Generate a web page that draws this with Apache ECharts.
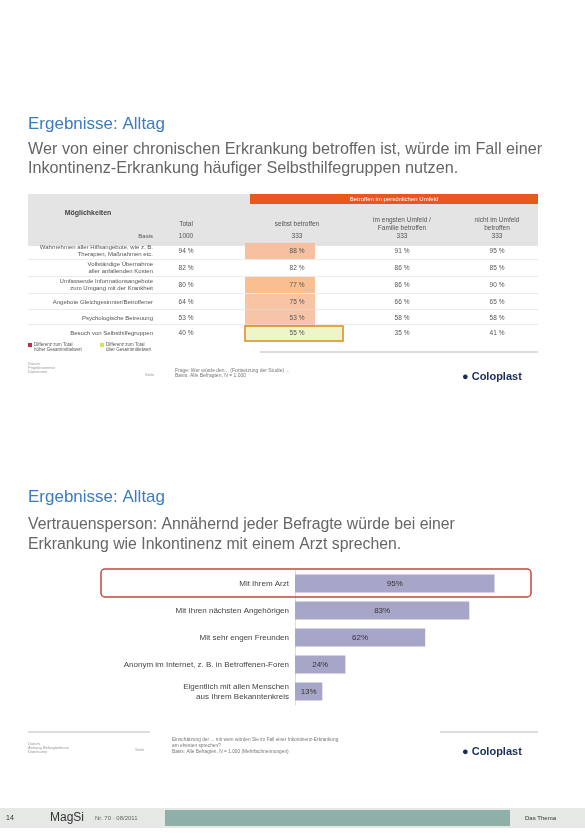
<!DOCTYPE html>
<html><head><meta charset="utf-8">
<script src="https://cdn.jsdelivr.net/npm/echarts@6/dist/echarts.min.js"></script>
<style>html,body{margin:0;padding:0;background:#fff}#c{width:585px;height:835px}</style>
</head><body><div id="c"></div>
<script>
// bottom chart data
const categories = ['Mit Ihrem Arzt','Mit Ihren nächsten Angehörigen','Mit sehr engen Freunden','Anonym im Internet, z. B. in Betroffenen-Foren','Eigentlich mit allen Menschen\naus Ihrem Bekanntenkreis'];
const values = [95, 83, 62, 24, 13];
// top table data
const tableRows = ['Basis','Wahrnehmen aller Hilfsangebote, wie z. B.\nTherapien, Maßnahmen etc.','Vollständige Übernahme\naller anfallenden Kosten','Umfassende Informationsangebote\nzum Umgang mit der Krankheit','Angebote Gleichgesinnter/Betroffener','Psychologische Betreuung','Besuch von Selbsthilfegruppen'];
const tableCols = ['Total','selbst betroffen','im engsten Umfeld /\nFamilie betroffen','nicht im Umfeld\nbetroffen'];
const colTotal = ['1000','94 %','82 %','80 %','64 %','53 %','40 %'];
const colSelf = ['333','88 %','82 %','77 %','75 %','53 %','55 %'];
const colFamily = ['333','91 %','86 %','86 %','66 %','58 %','35 %'];
const colNone = ['333','95 %','85 %','90 %','65 %','58 %','41 %'];

const chart = echarts.init(document.getElementById('c'));
const g = [];
const T = (x,y,text,o={},z=3) => g.push({type:'text',x,y,z,style:Object.assign({text,fill:'#555',fontFamily:'Liberation Sans',fontSize:7},o)});
const R = (x,y,w,h,o={}) => g.push({type:'rect',shape:{x,y,width:w,height:h,r:o.r||0},style:Object.assign({fill:'#eee'},o.style||{}),z:o.z||0});

// top slide
T(28,116,'Ergebnisse: Alltag',{fill:'#3b7cc0',fontSize:17});
T(28,142,'Wer von einer chronischen Erkrankung betroffen ist, würde im Fall einer',{fill:'#666',fontSize:16.2});
T(28,161,'Inkontinenz-Erkrankung häufiger Selbsthilfegruppen nutzen.',{fill:'#666',fontSize:16.2});
R(28,194,510,52,{style:{fill:'#e4e4e4'}});
R(250,194,288,10,{style:{fill:'#e8571c'}});
T(394,199,'Betroffen im persönlichen Umfeld',{fill:'#fff',fontSize:6,align:'center',verticalAlign:'middle'});
T(88,210,'Möglichkeiten',{fontSize:7,fontWeight:'bold',fill:'#444',align:'center'});
const cx=[186,297,402,497];
tableCols.forEach((c,i)=>T(cx[i],224,c,{align:'center',verticalAlign:'middle',fontSize:6.5,lineHeight:8}));
const rowY=[236,251,268,285,302,318,333];
const cols=[colTotal,colSelf,colFamily,colNone];
const hl={1:'#f6bfa0',3:'#f9bf90',4:'#f9c4a4',5:'#f8c4a8'};
Object.keys(hl).forEach(k=>R(245,rowY[k]-8,70,16,{style:{fill:hl[k]}}));
R(245,rowY[6]-7,98,15,{style:{fill:'#eef5c8',stroke:'#d98b1a',lineWidth:1.5},z:1});
tableRows.forEach((r,i)=>{
  if(i>0) g.push({type:'line',z:1,shape:{x1:28,y1:rowY[i]-8.5,x2:538,y2:rowY[i]-8.5},style:{stroke:'#ddd',lineWidth:0.6}});
  T(153,rowY[i],r,{align:'right',verticalAlign:'middle',fontSize:6,lineHeight:7.5});
  cols.forEach((c,j)=>T(cx[j],rowY[i],c[i],{align:'center',verticalAlign:'middle',fontSize:6.5}));
});
R(28,343,4,4,{style:{fill:'#c0304a'}});R(100,343,4,4,{style:{fill:'#d8e060'}});
T(34,342,'Differenz zum Total\nhöher Gesamtmittelwert',{fontSize:4.5});
T(106,342,'Differenz zum Total\nüber Gesamtmittelwert',{fontSize:4.5});
g.push({type:'line',shape:{x1:260,y1:352,x2:538,y2:352},style:{stroke:'#bbb'}});
T(28,362,'Datum\nProjektnummer\nDateiname',{fontSize:4,fill:'#999'});
T(145,373,'Seite',{fontSize:4,fill:'#999'});
T(175,368,'Frage: Wer würde den... (Fortsetzung der Studie) ...\nBasis: Alle Befragten, N = 1.000',{fontSize:5,fill:'#777'});
T(462,377,'● Coloplast',{fontSize:11,fontWeight:'bold',fill:'#1a2c5c',verticalAlign:'middle'});

// bottom slide
T(28,489,'Ergebnisse: Alltag',{fill:'#3b7cc0',fontSize:17});
T(28,517,'Vertrauensperson: Annähernd jeder Befragte würde bei einer',{fill:'#666',fontSize:15.8});
T(28,537,'Erkrankung wie Inkontinenz mit einem Arzt sprechen.',{fill:'#666',fontSize:15.8});
R(101,569,430,28,{r:4,style:{fill:'none',stroke:'#c4463f',lineWidth:1.5},z:5});
g.push({type:'line',shape:{x1:28,y1:732,x2:150,y2:732},style:{stroke:'#bbb'}});
g.push({type:'line',shape:{x1:440,y1:732,x2:538,y2:732},style:{stroke:'#bbb'}});
T(28,742,'Datum\nAnhang Befragtenkreis\nDateiname',{fontSize:4,fill:'#999'});
T(135,748,'Seite',{fontSize:4,fill:'#999'});
T(172,737,'Einschätzung der ... mit wem würden Sie im Fall einer Inkontinenz-Erkrankung\nam ehesten sprechen?\nBasis: Alle Befragten, N = 1.000 (Mehrfachnennungen)',{fontSize:4.8,fill:'#777',lineHeight:6});
T(462,752,'● Coloplast',{fontSize:11,fontWeight:'bold',fill:'#1a2c5c',verticalAlign:'middle'});
R(0,808,585,20,{style:{fill:'#e6e8e6'}});
R(165,810,345,16,{style:{fill:'#8fb0a8'}});
T(6,818,'14',{fontSize:7,verticalAlign:'middle',fill:'#333'});
T(50,818,'MagSi',{fontSize:12,verticalAlign:'middle',fill:'#333'});
T(95,818,'Nr. 70 · 08/2011',{fontSize:6,verticalAlign:'middle',fill:'#666'});
T(525,818,'Das Thema',{fontSize:6,verticalAlign:'middle',fill:'#333'});

chart.setOption({
  animation:false,
  graphic:g,
  grid:{left:295,top:570,width:210,height:135},
  xAxis:{type:'value',min:0,max:100,show:false},
  yAxis:{type:'category',data:categories,inverse:true,axisLine:{show:true,lineStyle:{color:'#ddd'}},axisTick:{show:false},
    axisLabel:{color:'#444',fontSize:8,fontFamily:'Liberation Sans',margin:6,lineHeight:10}},
  series:[{type:'bar',data:values,barWidth:18,itemStyle:{color:'#a8a6c8'},
    label:{show:true,position:'inside',formatter:'{c}%',color:'#333',fontSize:8,fontFamily:'Liberation Sans'}}]
});
</script></body></html>
